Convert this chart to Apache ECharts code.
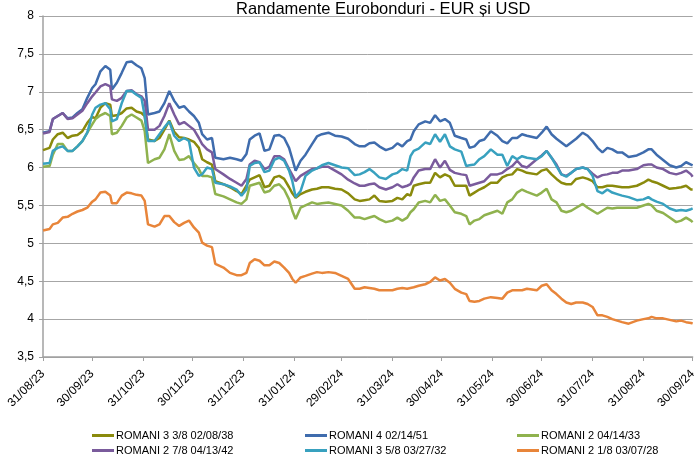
<!DOCTYPE html>
<html>
<head>
<meta charset="utf-8">
<title>Randamente Eurobonduri</title>
<script src="https://cdn.jsdelivr.net/npm/echarts@6/dist/echarts.min.js"></script>
<style>
  html, body { margin: 0; padding: 0; background: #fff; }
  #chart { width: 699px; height: 457px; }
</style>
</head>
<body>
<div id="chart"></div>
<script>
// zile
const dates = [
  "2023-08-31", "2023-09-04", "2023-09-06", "2023-09-09", "2023-09-12", "2023-09-15", "2023-09-18",
  "2023-09-21", "2023-09-24", "2023-09-27", "2023-09-30", "2023-10-02", "2023-10-05", "2023-10-08",
  "2023-10-11", "2023-10-12", "2023-10-15", "2023-10-18", "2023-10-21", "2023-10-24", "2023-10-27",
  "2023-10-30", "2023-11-01", "2023-11-03", "2023-11-07", "2023-11-10", "2023-11-13", "2023-11-16",
  "2023-11-19", "2023-11-22", "2023-11-25", "2023-11-28", "2023-12-01", "2023-12-04", "2023-12-06",
  "2023-12-09", "2023-12-12", "2023-12-14", "2023-12-19", "2023-12-23", "2023-12-27", "2023-12-30",
  "2024-01-02", "2024-01-04", "2024-01-07", "2024-01-10", "2024-01-13", "2024-01-16", "2024-01-19",
  "2024-01-22", "2024-01-25", "2024-01-28", "2024-01-30", "2024-02-01", "2024-02-04", "2024-02-07",
  "2024-02-11", "2024-02-14", "2024-02-17", "2024-02-21", "2024-02-25", "2024-02-29", "2024-03-04",
  "2024-03-08", "2024-03-11", "2024-03-14",
  "2024-03-17", "2024-03-20", "2024-03-23", "2024-03-27", "2024-03-31", "2024-04-03", "2024-04-06",
  "2024-04-09", "2024-04-11", "2024-04-13", "2024-04-16", "2024-04-20", "2024-04-23", "2024-04-26",
  "2024-04-29", "2024-05-02", "2024-05-05", "2024-05-08", "2024-05-12", "2024-05-15", "2024-05-17",
  "2024-05-20", "2024-05-23", "2024-05-26", "2024-05-30", "2024-06-03", "2024-06-06", "2024-06-09",
  "2024-06-12", "2024-06-15", "2024-06-18", "2024-06-21",
  "2024-06-27", "2024-06-30", "2024-07-03", "2024-07-06", "2024-07-09", "2024-07-12", "2024-07-15",
  "2024-07-18", "2024-07-21", "2024-07-25", "2024-07-28", "2024-07-31", "2024-08-03", "2024-08-06",
  "2024-08-09", "2024-08-12", "2024-08-15", "2024-08-18", "2024-08-22", "2024-08-27", "2024-08-31",
  "2024-09-03", "2024-09-05", "2024-09-08", "2024-09-12", "2024-09-16", "2024-09-20", "2024-09-23",
  "2024-09-26", "2024-09-29", "2024-09-30"
];

const romani338 = [
  6.23, 6.26, 6.37, 6.44, 6.46, 6.39, 6.42, 6.43, 6.48, 6.59, 6.67, 6.65, 6.79, 6.85, 6.83, 6.68, 6.69, 6.72,
  6.78, 6.79, 6.74, 6.72, 6.68, 6.37, 6.35, 6.39, 6.50, 6.62, 6.47, 6.40, 6.39, 6.37, 6.34, 6.26, 6.11,
  6.07, 6.04, 5.82, 5.78, 5.74, 5.69, 5.65, 5.76, 5.84, 5.87, 5.90, 5.74, 5.76, 5.87, 5.89, 5.85, 5.74, 5.66,
  5.60, 5.65, 5.68, 5.71, 5.72, 5.74, 5.74, 5.72, 5.71, 5.66, 5.58, 5.56, 5.57,
  5.58, 5.63, 5.56, 5.55, 5.56, 5.60, 5.58, 5.65, 5.63, 5.76, 5.78, 5.80, 5.80, 5.93, 5.87, 5.91, 5.88, 5.76,
  5.76, 5.76, 5.63, 5.67, 5.71, 5.74, 5.80, 5.80, 5.87, 5.90, 5.91, 5.98, 5.96, 5.93,
  5.91, 5.96, 5.98, 5.91, 5.85, 5.80, 5.78, 5.78, 5.85, 5.87, 5.85, 5.82, 5.74, 5.74, 5.76, 5.76, 5.75, 5.74,
  5.74, 5.76, 5.80, 5.84, 5.82, 5.80, 5.76, 5.72, 5.73, 5.74, 5.76, 5.71, 5.71
];

const romani451 = [
  6.46, 6.48, 6.64, 6.68, 6.72, 6.65, 6.66, 6.72, 6.77, 6.92, 7.05, 7.10, 7.27, 7.34, 7.29, 7.03, 7.12, 7.25,
  7.39, 7.40, 7.35, 7.31, 7.18, 6.70, 6.72, 6.74, 6.85, 7.01, 6.88, 6.79, 6.81, 6.74, 6.68, 6.59, 6.44,
  6.37, 6.39, 6.13, 6.11, 6.13, 6.11, 6.09, 6.18, 6.37, 6.42, 6.45, 6.22, 6.24, 6.42, 6.43, 6.39, 6.26, 6.11,
  5.96, 6.09, 6.17, 6.31, 6.41, 6.44, 6.46, 6.42, 6.41, 6.38, 6.31, 6.28, 6.28,
  6.32, 6.33, 6.28, 6.23, 6.26, 6.32, 6.28, 6.35, 6.37, 6.48, 6.57, 6.61, 6.59, 6.69, 6.61, 6.64, 6.59, 6.42,
  6.39, 6.37, 6.26, 6.28, 6.35, 6.37, 6.48, 6.42, 6.35, 6.32, 6.39, 6.39, 6.44, 6.42,
  6.39, 6.46, 6.54, 6.44, 6.38, 6.33, 6.28, 6.33, 6.38, 6.46, 6.42, 6.35, 6.26, 6.20, 6.26, 6.24, 6.20, 6.20,
  6.14, 6.16, 6.20, 6.24, 6.24, 6.17, 6.10, 6.03, 6.00, 6.02, 6.07, 6.04, 6.03
];

const romani233 = [
  6.01, 6.02, 6.17, 6.31, 6.31, 6.22, 6.22, 6.28, 6.35, 6.46, 6.57, 6.64, 6.69, 6.72, 6.68, 6.44, 6.46, 6.55,
  6.66, 6.70, 6.66, 6.62, 6.48, 6.06, 6.11, 6.13, 6.24, 6.44, 6.22, 6.10, 6.11, 6.15, 6.06, 5.98, 5.89,
  5.89, 5.87, 5.65, 5.62, 5.58, 5.54, 5.52, 5.58, 5.76, 5.78, 5.80, 5.67, 5.69, 5.76, 5.78, 5.71, 5.58, 5.43,
  5.32, 5.47, 5.50, 5.54, 5.52, 5.53, 5.54, 5.52, 5.50, 5.43, 5.34, 5.34, 5.32,
  5.34, 5.36, 5.32, 5.28, 5.30, 5.34, 5.30, 5.34, 5.41, 5.45, 5.54, 5.56, 5.54, 5.64, 5.56, 5.58, 5.50, 5.41,
  5.39, 5.36, 5.25, 5.30, 5.32, 5.37, 5.40, 5.43, 5.39, 5.54, 5.58, 5.67, 5.71, 5.68,
  5.63, 5.67, 5.72, 5.58, 5.54, 5.43, 5.41, 5.43, 5.47, 5.52, 5.47, 5.43, 5.39, 5.43, 5.47, 5.46, 5.47, 5.47,
  5.47, 5.47, 5.50, 5.52, 5.50, 5.43, 5.40, 5.34, 5.28, 5.30, 5.34, 5.30, 5.28
];

const romani278 = [
  6.45, 6.47, 6.64, 6.68, 6.72, 6.64, 6.65, 6.70, 6.75, 6.85, 6.94, 6.99, 7.07, 7.10, 7.07, 6.90, 6.88, 6.92,
  7.01, 7.02, 6.97, 6.94, 6.88, 6.50, 6.50, 6.55, 6.68, 6.85, 6.70, 6.57, 6.60, 6.55, 6.50, 6.39, 6.31,
  6.24, 6.20, 5.98, 5.91, 5.85, 5.80, 5.76, 5.85, 6.04, 6.09, 6.07, 5.98, 6.01, 6.15, 6.15, 6.11, 5.98, 5.90,
  5.82, 5.89, 5.93, 5.98, 5.99, 6.01, 6.01, 5.96, 5.91, 5.84, 5.79, 5.76, 5.76,
  5.78, 5.79, 5.74, 5.71, 5.74, 5.78, 5.74, 5.76, 5.78, 5.87, 5.96, 5.98, 5.98, 6.11, 6.00, 6.09, 5.97, 5.93,
  5.91, 5.90, 5.76, 5.78, 5.80, 5.82, 5.91, 5.91, 5.93, 5.98, 6.02, 6.09, 6.02, 6.00,
  6.11, 6.16, 6.22, 6.13, 6.04, 5.91, 5.89, 5.93, 5.98, 6.00, 5.98, 5.92, 5.87, 5.90, 5.91, 5.93, 5.93, 5.96,
  5.96, 5.98, 6.03, 6.04, 6.04, 6.00, 5.98, 5.93, 5.91, 5.93, 5.96, 5.91, 5.88
];

const romani358 = [
  6.05, 6.06, 6.22, 6.26, 6.28, 6.22, 6.22, 6.28, 6.35, 6.46, 6.70, 6.79, 6.83, 6.85, 6.77, 6.61, 6.64, 6.85,
  7.01, 7.01, 6.96, 6.92, 6.68, 6.35, 6.35, 6.44, 6.53, 6.61, 6.42, 6.35, 6.39, 6.35, 6.00, 5.89, 5.91,
  6.00, 5.98, 5.80, 5.78, 5.75, 5.71, 5.63, 5.71, 6.02, 6.06, 6.07, 5.94, 5.96, 6.10, 6.13, 6.09, 5.96, 5.82,
  5.61, 5.69, 5.89, 5.96, 5.99, 6.03, 6.06, 6.03, 6.00, 5.99, 5.90, 5.91, 5.94,
  5.98, 5.93, 5.87, 5.85, 5.91, 5.93, 5.98, 5.96, 6.15, 6.22, 6.25, 6.33, 6.31, 6.44, 6.34, 6.44, 6.28, 6.24,
  6.21, 6.02, 6.03, 6.04, 6.11, 6.15, 6.24, 6.17, 6.17, 6.02, 6.15, 6.11, 6.15, 6.13,
  6.11, 6.15, 6.22, 6.13, 6.02, 5.91, 5.88, 5.93, 5.98, 6.00, 5.98, 5.89, 5.69, 5.66, 5.71, 5.67, 5.65, 5.63,
  5.61, 5.57, 5.58, 5.61, 5.58, 5.55, 5.52, 5.46, 5.43, 5.44, 5.43, 5.45, 5.46
];

const romani218 = [
  5.17, 5.19, 5.25, 5.27, 5.34, 5.35, 5.39, 5.42, 5.44, 5.47, 5.55, 5.58, 5.67, 5.68, 5.63, 5.53, 5.53, 5.63,
  5.67, 5.66, 5.64, 5.63, 5.56, 5.25, 5.22, 5.25, 5.36, 5.36, 5.28, 5.23, 5.27, 5.30, 5.21, 5.14, 5.01,
  4.97, 4.95, 4.73, 4.68, 4.61, 4.58, 4.58, 4.61, 4.74, 4.79, 4.77, 4.71, 4.71, 4.76, 4.74, 4.68, 4.61, 4.53,
  4.48, 4.55, 4.57, 4.60, 4.62, 4.61, 4.62, 4.61, 4.57, 4.53, 4.40, 4.40, 4.42,
  4.41, 4.40, 4.38, 4.38, 4.38, 4.40, 4.41, 4.40, 4.41, 4.42, 4.44, 4.46, 4.49, 4.55, 4.51, 4.53, 4.48, 4.40,
  4.35, 4.33, 4.24, 4.23, 4.24, 4.27, 4.29, 4.28, 4.27, 4.35, 4.38, 4.38, 4.38, 4.40,
  4.38, 4.44, 4.46, 4.38, 4.33, 4.27, 4.22, 4.20, 4.22, 4.22, 4.20, 4.16, 4.05, 4.05, 4.03, 4.00, 3.98, 3.96,
  3.94, 3.98, 4.00, 4.01, 4.03, 4.01, 4.01, 3.99, 3.97, 3.98, 3.96, 3.95, 3.94
];

// etichete axa X (sfarsit de luna)
const monthEnds = [
  "2023-08-31", "2023-09-30", "2023-10-31", "2023-11-30", "2023-12-31", "2024-01-31", "2024-02-29",
  "2024-03-31", "2024-04-30", "2024-05-31", "2024-06-30", "2024-07-31", "2024-08-31", "2024-09-30"
];

const seriesNames = [
  "ROMANI 3 3/8 02/08/38", "ROMANI 4 02/14/51", "ROMANI 2 04/14/33",
  "ROMANI 2 7/8 04/13/42", "ROMANI 3 5/8 03/27/32", "ROMANI 2 1/8 03/07/28"
];
const seriesValues = [romani338, romani451, romani233, romani278, romani358, romani218];
const colors = ["#8a8a0c", "#3f6cad", "#8fb24e", "#7a5b9c", "#38a1bf", "#e8853a"];

function toTime(s) {
  return Date.UTC(+s.slice(0, 4), +s.slice(5, 7) - 1, +s.slice(8, 10));
}
function pad(n) {
  return n < 10 ? "0" + n : "" + n;
}

const tickTimes = monthEnds.map(toTime);
const font = "'Liberation Sans', Arial, sans-serif";

// legenda pe 2 randuri x 3 coloane, cate o legenda pentru fiecare serie
const legendLeft = [87, 300, 512];
const legendTop = [425, 440];

const myChart = echarts.init(document.getElementById("chart"));
const option = {
  animation: false,
  color: colors,
  title: {
    text: "Randamente Eurobonduri - EUR și USD",
    left: 231,
    top: -4,
    textStyle: { fontFamily: font, fontSize: 16.5, fontWeight: "normal", color: "#000" },
  },
  legend: seriesNames.map(function (name, i) {
    return {
      left: legendLeft[i % 3],
      top: legendTop[Math.floor(i / 3)],
      itemWidth: 22,
      itemHeight: 3,
      itemGap: 0,
      icon: "rect",
      textStyle: { fontFamily: font, fontSize: 11, color: "#000", padding: [0, 0, 0, -3] },
      data: [name],
    };
  }),
  grid: {
    left: 43,
    right: 4,
    top: 16,
    bottom: 100,
  },
  // axa de timp ca valoare (milisecunde), cu ticks la sfarsit de luna
  xAxis: {
    type: "value",
    min: tickTimes[0],
    max: tickTimes[tickTimes.length - 1],
    splitLine: { show: false },
    axisLine: { lineStyle: { color: "#a0a0a0", width: 1.5 } },
    axisTick: {
      show: true,
      length: 4,
      customValues: tickTimes,
      lineStyle: { color: "#a0a0a0" },
    },
    axisLabel: {
      customValues: tickTimes,
      rotate: 45,
      margin: 15,
      fontFamily: font,
      fontSize: 12,
      color: "#000",
      formatter: function (v) {
        const d = new Date(v);
        return pad(d.getUTCDate()) + "/" + pad(d.getUTCMonth() + 1) + "/" + pad(d.getUTCFullYear() % 100);
      },
    },
  },
  yAxis: {
    type: "value",
    min: 3.5,
    max: 8,
    interval: 0.5,
    axisLine: { show: true, lineStyle: { color: "#a0a0a0", width: 1.5 } },
    axisTick: { show: true, length: 4, lineStyle: { color: "#a0a0a0" } },
    axisLabel: {
      margin: 9,
      fontFamily: font,
      fontSize: 12,
      color: "#000",
      formatter: function (v) {
        return String(v).replace(".", ",");
      },
    },
    splitLine: { lineStyle: { color: "#a6a6a6", width: 1 } },
  },
  series: seriesNames.map(function (name, i) {
    return {
      name: name,
      type: "line",
      showSymbol: false,
      lineStyle: { width: 2.5 },
      data: dates.map(function (d, j) {
        return [toTime(d), seriesValues[i][j]];
      }),
    };
  }),
};
myChart.setOption(option);
</script>
</body>
</html>
